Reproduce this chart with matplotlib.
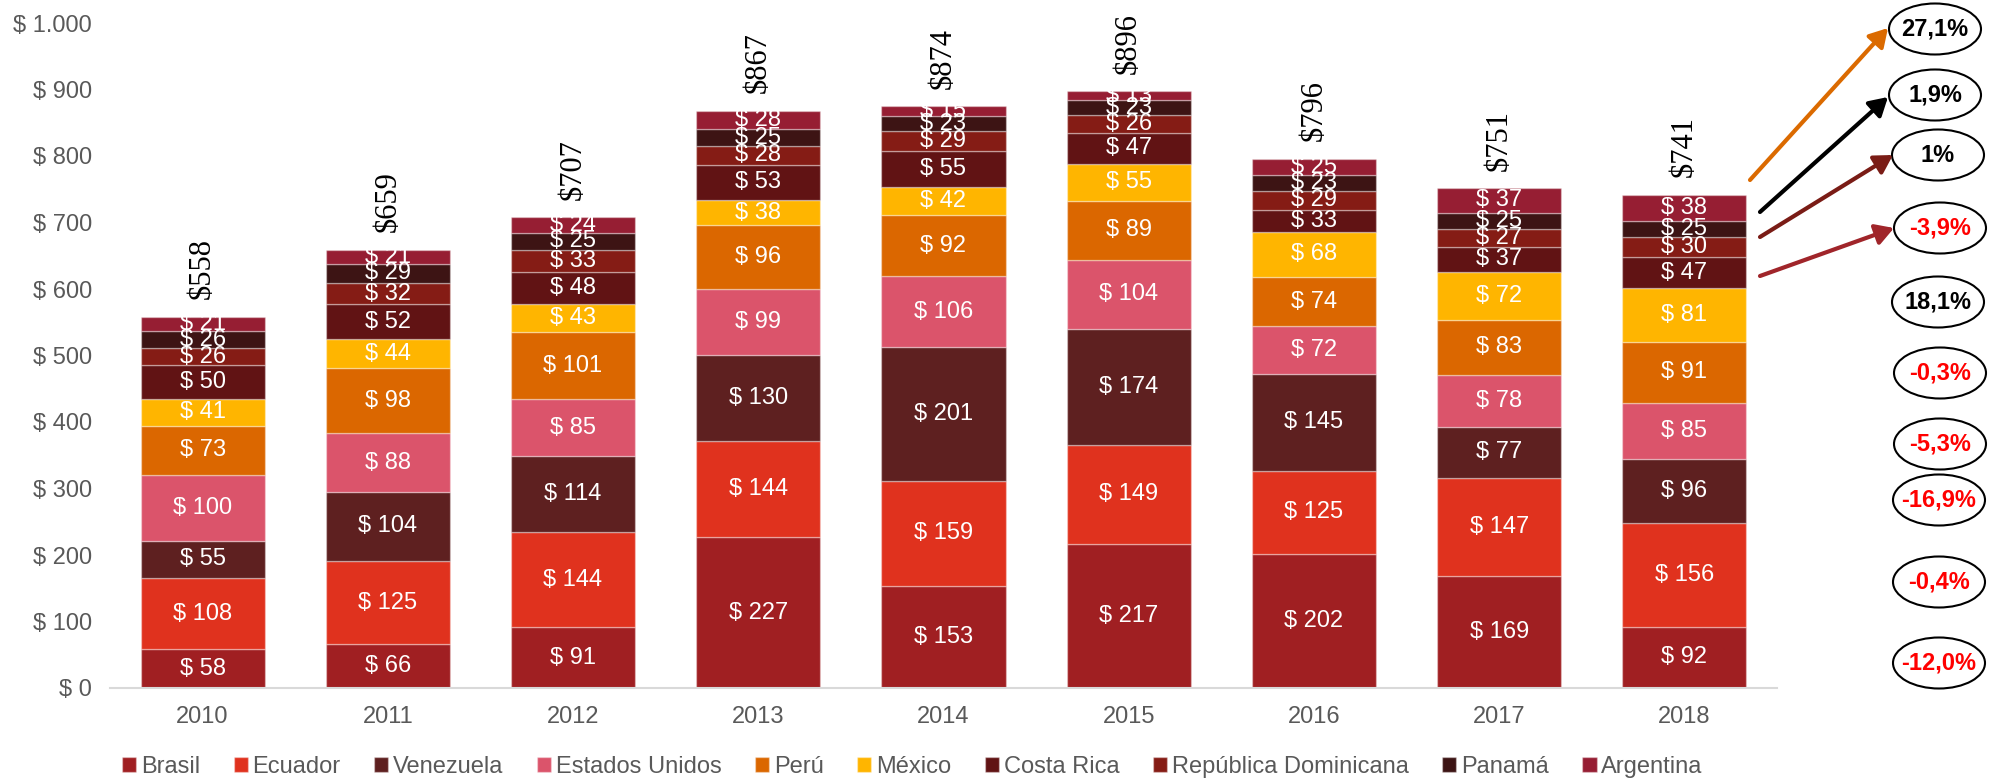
import matplotlib
matplotlib.use("Agg")
import matplotlib.pyplot as plt
import numpy as np
from matplotlib.patches import Ellipse, FancyArrowPatch
from matplotlib.ticker import FuncFormatter

# --- data -------------------------------------------------------------
years = ["2010", "2011", "2012", "2013", "2014", "2015", "2016", "2017", "2018"]

countries = ["Brasil", "Ecuador", "Venezuela", "Estados Unidos", "Perú", "México",
             "Costa Rica", "República Dominicana", "Panamá", "Argentina"]

brasil = [58, 66, 91, 227, 153, 217, 202, 169, 92]
ecuador = [108, 125, 144, 144, 159, 149, 125, 147, 156]
venezuela = [55, 104, 114, 130, 201, 174, 145, 77, 96]
estados_unidos = [100, 88, 85, 99, 106, 104, 72, 78, 85]
peru = [73, 98, 101, 96, 92, 89, 74, 83, 91]
mexico = [41, 44, 43, 38, 42, 55, 68, 72, 81]
costa_rica = [50, 52, 48, 53, 55, 47, 33, 37, 47]
rep_dominicana = [26, 32, 33, 28, 29, 26, 29, 27, 30]
panama = [26, 29, 25, 25, 23, 23, 23, 25, 25]
argentina = [21, 21, 24, 28, 15, 13, 25, 37, 38]

totals = [558, 659, 707, 867, 874, 896, 796, 751, 741]

# variation labels, listed from top (Argentina) to bottom (Brasil)
variation = ["27,1%", "1,9%", "1%", "-3,9%", "18,1%", "-0,3%",
             "-5,3%", "-16,9%", "-0,4%", "-12,0%"]

series = [brasil, ecuador, venezuela, estados_unidos, peru, mexico,
          costa_rica, rep_dominicana, panama, argentina]

colors = ["#A01F22", "#E0321E", "#5E2020", "#DB546B", "#DB6700", "#FFB500",
          "#611314", "#851C15", "#3D1414", "#961E33"]

# --- figure -----------------------------------------------------------
W, H = 2005, 781
plt.rcParams["font.family"] = ["Liberation Sans", "DejaVu Sans"]
fig = plt.figure(figsize=(W / 100, H / 100), dpi=100)
ax = fig.add_axes([110 / W, 1 - 688 / H, (1777 - 110) / W, 665 / H])

x = np.arange(len(years))
bottom = np.zeros(len(years))
for name, vals, col in zip(countries, series, colors):
    bars = ax.bar(x, vals, width=0.67, bottom=bottom, color=col, label=name,
                  edgecolor=(1, 1, 1, 0.35), linewidth=1.0)
    ax.bar_label(bars, labels=[f"$ {v}" for v in vals], label_type="center",
                 color="white", fontsize=17)
    bottom += np.array(vals)

# totals above each stack, rotated
for xi, t in zip(x, totals):
    ax.annotate(f"${t}", xy=(xi, t), xytext=(0, 13), textcoords="offset points",
                rotation=90, ha="center", va="bottom", fontsize=22,
                family="Liberation Serif", color="black")

ax.set_xlim(-0.5, len(years) - 0.5)
ax.set_ylim(0, 1000)
ax.set_xticks(x)
ax.set_xticklabels(years)
ax.set_yticks(np.arange(0, 1001, 100))
ax.yaxis.set_major_formatter(FuncFormatter(
    lambda v, _: "$ " + f"{int(v):,}".replace(",", ".")))
ax.tick_params(axis="both", length=0, labelsize=17, colors="#595959")
ax.tick_params(axis="x", pad=13)
ax.tick_params(axis="y", pad=13)
for s in ("top", "right", "left"):
    ax.spines[s].set_visible(False)
ax.spines["bottom"].set_color("#D9D9D9")
ax.spines["bottom"].set_linewidth(1.5)

# legend along the bottom
leg = fig.legend(loc="center left", bbox_to_anchor=(122 / W, 1 - 767 / H),
                 ncol=len(countries), frameon=False, fontsize=17,
                 handlelength=0.6, handleheight=0.6, handletextpad=0.2,
                 columnspacing=1.42, borderpad=0, borderaxespad=0)
for t in leg.get_texts():
    t.set_color("#595959")


def fpt(px, py):
    return (px / W, 1 - py / H)


# variation ellipses on the right
centers = [(1935, 29), (1935, 95), (1938, 155), (1940, 228), (1938, 302),
           (1940, 373), (1940, 444), (1939, 500), (1939, 582), (1939, 663)]
for (cx, cy), lab in zip(centers, variation):
    e = Ellipse(fpt(cx, cy), 92 / W, 51 / H, transform=fig.transFigure,
                facecolor="white", edgecolor="black", linewidth=1.5)
    fig.add_artist(e)
    fig.text(*fpt(cx, cy), lab, ha="center", va="center", fontsize=17,
             fontweight="bold", color="#FF0000" if lab.startswith("-") else "black")

# arrows from the 2018 stack towards the top four ellipses
arrows = [((1750, 180), (1888, 28), "#DB6A00"),
          ((1760, 212), (1888, 97), "black"),
          ((1760, 237), (1893, 155), "#7A1C16"),
          ((1760, 276), (1894, 228), "#A0252A")]
for (p0, p1, col) in arrows:
    fig.add_artist(FancyArrowPatch(fpt(*p0), fpt(*p1), transform=fig.transFigure,
                                   arrowstyle="-|>,head_length=0.6,head_width=0.35",
                                   mutation_scale=18, linewidth=3, color=col,
                                   shrinkA=0, shrinkB=0))

fig.savefig("out.png", dpi=100)
